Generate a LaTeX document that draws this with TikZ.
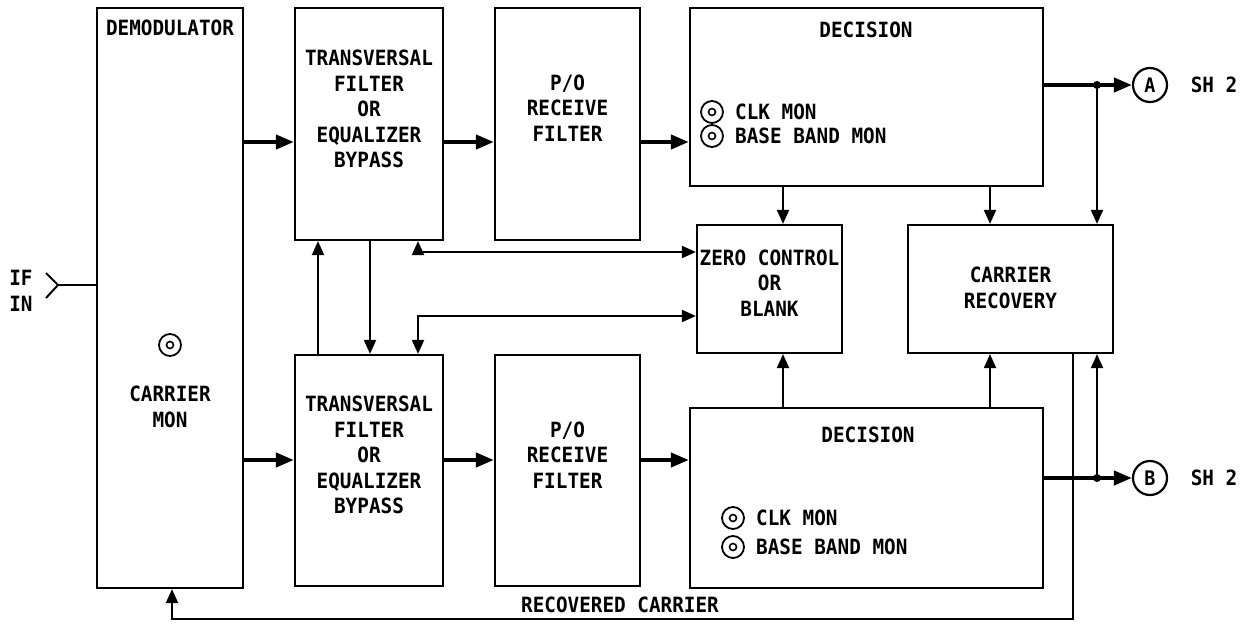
\documentclass[tikz,border=0pt]{standalone}
\usepackage{fontspec}
\newfontfamily\lblfont{DejaVu Sans Mono}[FakeStretch=0.92]
\usetikzlibrary{arrows.meta}
\begin{document}
\begin{tikzpicture}[x=1pt,y=-1pt,
  blk/.style={draw, line width=2.2pt, inner sep=0pt},
  lbl/.style={font=\lblfont\bfseries\fontsize{21}{25.5}\selectfont, align=center, inner sep=0pt},
  tarr/.style={line width=4pt, -{Triangle[length=18pt,width=14pt]}},
  ln/.style={line width=2pt},
  ar/.style={ln, -{Triangle[length=14pt,width=12pt]}},
  arboth/.style={ln, {Triangle[length=14pt,width=12pt]}-{Triangle[length=14pt,width=12pt]}},
  mon/.style={circle, draw, line width=1.8pt, minimum size=22pt, inner sep=0pt},
  conn/.style={circle, draw, line width=2.2pt, minimum size=34pt, inner sep=0pt, font=\lblfont\bfseries\fontsize{20}{22}\selectfont}
]
\useasboundingbox (0,0) rectangle (1245,626);
% boxes
\node[blk, minimum width=146pt, minimum height=580pt] (demod) at (170,298) {};
\node[blk, minimum width=148pt, minimum height=232pt] (t1) at (369,124) {};
\node[blk, minimum width=148pt, minimum height=231pt] (t2) at (369,470.5) {};
\node[blk, minimum width=145pt, minimum height=232pt] (p1) at (567.5,124) {};
\node[blk, minimum width=145pt, minimum height=231pt] (p2) at (567.5,470.5) {};
\node[blk, minimum width=353pt, minimum height=178pt] (d1) at (866.5,97) {};
\node[blk, minimum width=353pt, minimum height=180pt] (d2) at (866.5,498) {};
\node[blk, minimum width=145pt, minimum height=128pt] (z) at (769.5,289) {};
\node[blk, minimum width=205pt, minimum height=128pt] (c) at (1010.5,289) {};
\node[conn] (A) at (1150,85) {A};
\node[conn] (B) at (1150,478) {B};
% texts
\node[lbl] (tdemod) at (170,28) {DEMODULATOR};
\node[mon] (mc) at (170,345) {};
\draw[line width=1.6pt] (mc.center) circle[radius=3.5pt];
\node[lbl] (tcm) at (170,407) {CARRIER\\MON};
\node[lbl] (tt1) at (369,109) {TRANSVERSAL\\FILTER\\OR\\EQUALIZER\\BYPASS};
\node[lbl] (tt2) at (369,455) {TRANSVERSAL\\FILTER\\OR\\EQUALIZER\\BYPASS};
\node[lbl] (tp1) at (567.5,108) {P/O\\RECEIVE\\FILTER};
\node[lbl] (tp2) at (567.5,455) {P/O\\RECEIVE\\FILTER};
\node[lbl] (td1) at (866,30) {DECISION};
\node[lbl] (td2) at (868,435) {DECISION};
\node[lbl] (tz) at (769.5,283) {ZERO CONTROL\\OR\\BLANK};
\node[lbl] (tc) at (1010.5,288) {CARRIER\\RECOVERY};
\node[lbl] (tif) at (21,291) {IF\\IN};
\node[lbl] (tsa) at (1214,85) {SH 2};
\node[lbl] (tsb) at (1214,478) {SH 2};
\node[lbl] (trc) at (620,605) {RECOVERED CARRIER};
% monitors in decision boxes
\node[mon] (m1) at (712,112) {};
\draw[line width=1.6pt] (m1.center) circle[radius=3.5pt];
\node[lbl, anchor=west] (tm1) at (735,112) {CLK MON};
\node[mon] (m2) at (712,136) {};
\draw[line width=1.6pt] (m2.center) circle[radius=3.5pt];
\node[lbl, anchor=west] (tm2) at (735,136) {BASE BAND MON};
\node[mon] (m3) at (733,518) {};
\draw[line width=1.6pt] (m3.center) circle[radius=3.5pt];
\node[lbl, anchor=west] (tm3) at (756,518) {CLK MON};
\node[mon] (m4) at (733,547) {};
\draw[line width=1.6pt] (m4.center) circle[radius=3.5pt];
\node[lbl, anchor=west] (tm4) at (756,547) {BASE BAND MON};
% coordinates
\coordinate (r1) at (0,142);
\coordinate (r2) at (0,460);
\coordinate (xz) at (783,0);
\coordinate (xc) at (990,0);
\coordinate (jA) at (1097,85);
\coordinate (jB) at (1097,478);
\coordinate (xu) at (318,0);
\coordinate (xd) at (370,0);
\coordinate (k1) at (418,252);
\coordinate (k2) at (418,316);
\coordinate (xrc) at (1073,0);
\coordinate (rb) at (0,619);
\coordinate (xdm) at (172,0);
\coordinate (ifj) at (58,285);
\coordinate (ifa) at (46,273);
\coordinate (ifb) at (46,298);
% thick signal path
\draw[tarr] (demod.east |- r1) -- (t1.west |- r1);
\draw[tarr] (t1.east |- r1) -- (p1.west |- r1);
\draw[tarr] (p1.east |- r1) -- (d1.west |- r1);
\draw[tarr] (demod.east |- r2) -- (t2.west |- r2);
\draw[tarr] (t2.east |- r2) -- (p2.west |- r2);
\draw[tarr] (p2.east |- r2) -- (d2.west |- r2);
\draw[tarr] (d1.east |- A) -- (A.west);
\draw[tarr] (d2.east |- B) -- (B.west);
\fill (jA) circle[radius=4pt];
\fill (jB) circle[radius=4pt];
% thin connectors
\draw[ar] (d1.south -| xz) -- (z.north -| xz);
\draw[ar] (d1.south -| xc) -- (c.north -| xc);
\draw[ar] (jA) -- (c.north -| jA);
\draw[ar] (d2.north -| xz) -- (z.south -| xz);
\draw[ar] (d2.north -| xc) -- (c.south -| xc);
\draw[ar] (jB) -- (c.south -| jB);
\draw[ar] (t2.north -| xu) -- (t1.south -| xu);
\draw[ar] (t1.south -| xd) -- (t2.north -| xd);
\draw[arboth] (t1.south -| k1) -- (k1) -- (z.west |- k1);
\draw[arboth] (t2.north -| k2) -- (k2) -- (z.west |- k2);
\draw[ar] (c.south -| xrc) -- (xrc |- rb) -- (xdm |- rb) -- (demod.south -| xdm);
% IF IN
\draw[ln] (ifa) -- (ifj) -- (ifb);
\draw[ln] (ifj) -- (demod.west |- ifj);
\end{tikzpicture}
\end{document}
